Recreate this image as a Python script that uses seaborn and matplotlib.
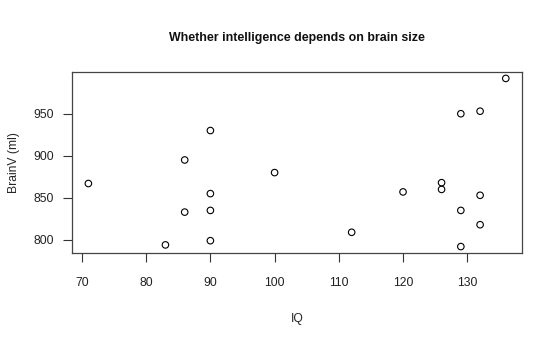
import matplotlib
matplotlib.use("Agg")
import matplotlib.pyplot as plt
import seaborn as sns
import pandas as pd

iq = [71, 83, 86, 86, 90, 90, 90, 90, 100, 112, 120, 126, 126, 129, 129, 129, 132, 132, 132, 136]
brainv = [867, 794, 895, 833, 930, 855, 835, 799, 880, 809, 857, 868, 860, 950, 835, 792, 953, 853, 818, 992]
x_ticks = [70, 80, 90, 100, 110, 120, 130]
y_ticks = [800, 850, 900, 950]

df = pd.DataFrame({"IQ": iq, "BrainV": brainv})

sns.set_style("white")
plt.rcParams["font.family"] = ["Liberation Sans", "DejaVu Sans"]

fig = plt.figure(figsize=(5.6, 3.43), dpi=100)
ax = fig.add_axes([0.128, 0.2615, 0.805, 0.5295])

sns.scatterplot(data=df, x="IQ", y="BrainV", ax=ax, marker="o", s=22,
                facecolor="none", edgecolor="black", linewidth=0.8)

xr = max(iq) - min(iq)
yr = max(brainv) - min(brainv)
ax.set_xlim(min(iq) - 0.04 * xr, max(iq) + 0.04 * xr)
ax.set_ylim(min(brainv) - 0.04 * yr, max(brainv) + 0.04 * yr)
ax.set_xticks(x_ticks)
ax.set_yticks(y_ticks)
ax.tick_params(axis="both", which="major", direction="out", length=6.5, width=0.8,
               color="#333333", labelsize=8.7, labelcolor="#222222")
ax.tick_params(axis="x", pad=10.5, bottom=True)
ax.tick_params(axis="y", pad=6.5, left=True)
for sp in ax.spines.values():
    sp.set_visible(True)
    sp.set_color("#444444")
    sp.set_linewidth(0.9)

ax.set_xlabel("IQ", fontsize=8.7, labelpad=17)
ax.set_ylabel("BrainV (ml)", fontsize=8.7, labelpad=9.5)
ax.set_title("Whether intelligence depends on brain size", fontsize=8.9,
             fontweight="bold", pad=22, color="#111111")

fig.savefig("out.png", dpi=100)
